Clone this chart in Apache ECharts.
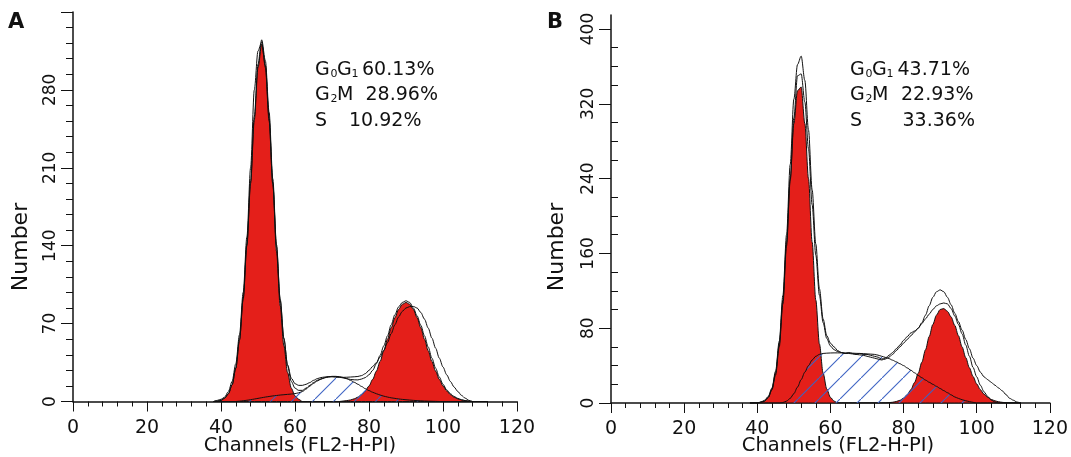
<!DOCTYPE html>
<html><head><meta charset="utf-8">
<script src="https://cdn.jsdelivr.net/npm/echarts@6/dist/echarts.min.js"></script>
<style>html,body{margin:0;padding:0;background:#fff}#c{width:1071px;height:457px}</style>
</head><body><div id="c"></div>
<script>
// Channels (FL2-H-PI) sampled 38..112
const channels = [38,39,40,41,42,43,44,45,46,47,48,49,50,51,52,53,54,55,56,57,58,59,60,61,62,63,64,65,66,67,68,69,70,71,72,73,74,75,76,77,78,79,80,81,82,83,84,85,86,87,88,89,90,91,92,93,94,95,96,97,98,99,100,101,102,103,104,105,106,107,108,109,110,111,112];

// Panel A
const aG1 = [0,0,1,3,7,15,30,55,92,140, 196,253,300,321,302,255,195,135,86,50, 26,12,5,2,0,0,0,0,0,0, 0,0,0,0,0,0,0,0,0,0, 0,0,0,0,0,0,0,0,0,0, 0,0,0,0,0,0,0,0,0,0, 0,0,0,0,0,0,0,0,0,0, 0,0,0,0,0];
const aS  = [0,0,0,0,0,0,0,0.3,0.7,1.1, 1.6,2.2,2.8,3.4,4,4.5,5,5.4,5.8,6.1, 6.4,6.7,7.1,7.8,9,11.2,13.8,16.3,18.4,20, 21.3,22.2,22.6,22.6,22.3,21.6,20.5,19,17.3,15.5, 13.5,11.5,9.8,8.3,7,5.8,4.8,4,3.3,2.8, 2.3,1.9,1.6,1.3,1,0.8,0.6,0.4,0.3,0.2, 0.1,0,0,0,0,0,0,0,0,0, 0,0,0,0,0];
const aG2 = [0,0,0,0,0,0,0,0,0,0, 0,0,0,0,0,0,0,0,0,0, 0,0,0,0,0,0,0,0,0,0, 0,0,0,0,0,0.4,0.8,1.4,2.4,3.9, 6.2,9.5,14,19.9,27.3,36,45.7,56,66.2,75.4, 82.7,87.4,89,87.4,82.7,75.4,66.2,56,45.7,36, 27.3,19.9,14,9.5,6.2,3.9,2.4,1.4,0.8,0.4, 0,0,0,0,0];
const aFit = [0,0.5,1,3,7,15,30,56,93,142, 198,256,303,325,306,260,200,141,92,57, 32,18,12,10,10,12,14.5,17,19,20.3, 21.3,22,22.3,22.2,21.8,21.2,20.5,19.8,19.5,19.4, 20.2,21.5,24,28,34,41.5,50,59,69,78, 85,89,90.5,89,84,77,68.5,59,49,39, 30,22,15.5,10.5,7,4.5,2.8,1.6,0.8,0, 0,0,0,0,0];
const aData = [0,1,2,4,9,18,34,60,98,148, 210,280,315,323,300,252,196,139,91,56, 33,21,16,14.5,14.5,15.5,17,19,20.5,21.5, 22,22.3,22.3,22,21.8,21.7,21.8,22,22.2,22.5, 23.3,25,28,31.5,35,40,46,53,61,69, 76,81,84,85.3,85.4,84,80,74,66,57, 48,39,31,24,18,13,9,5.5,3,1, 0,0,0,0,0];

// Panel B
const bG1 = [0,0,0,1,2,6,15,32,63,110, 172,240,299,334,338,299,240,172,110,63, 32,15,6,2,0,0,0,0,0,0, 0,0,0,0,0,0,0,0,0,0, 0,0,0,0,0,0,0,0,0,0, 0,0,0,0,0,0,0,0,0,0, 0,0,0,0,0,0,0,0,0,0, 0,0,0,0,0];
const bS  = [0,0,0,0,0,0,0,0,0,0.5, 2,5,10,17,25,33,40,46,50,52, 53,53.3,53.5,53.6,53.6,53.6,53.5,53.4,53.3,53.1, 53,52.8,52.5,52.3,52,51.2,50,48.8,47.5,45.8, 44,42,40,37.5,35,32.3,29.5,27,24.5,22.2, 20,17.8,15.5,13.2,11,8.7,6.5,4.9,3.5,2.4, 1.5,0.7,0,0,0,0,0,0,0,0, 0,0,0,0,0];
const bG2 = [0,0,0,0,0,0,0,0,0,0, 0,0,0,0,0,0,0,0,0,0, 0,0,0,0,0,0,0,0,0,0, 0,0,0,0,0,0,0,0,0.4,0.8, 1.6,2.9,5.2,8.9,14.3,21.9,31.7,43.6,57,71, 84,94,100,101,98,92,83,72,60,48.5, 37.7,28.3,20.4,14.2,9.5,6.1,3.8,2.3,1.3,0.7, 0.3,0,0,0,0];
const bOuter = [0,0,0,1,3,7,16,34,66,115, 180,255,325,362,371,345,292,228,170,122, 90,72,64,60,56,54,53,54,53,52, 53,52,52,51,50,49,47,48,51,54, 58,62,67,71,75,77,80,86,94,104, 113,119,121,119,113,105,96,87,78,68, 58,48,40,33,28,25,22,19,16,13, 9,5,3,1,0];
const bInner = [0,0,0,1,2,6,14,30,60,106, 168,238,305,350,352,322,272,212,158,115, 86,69,61,57,55,54,53,53,52.5,52, 51.5,51,50,49,48,47,46,47,49,52, 56,60,64,68,72,76,80,85,90,95, 100,104,106,107,106,101,93,84,74,62, 50,38,28,19,12,7,3,1,0,0, 0,0,0,0,0];

// Axis ticks
const aYTicks = [0,70,140,210,280];
const bYTicks = [0,80,160,240,320,400];
const bYMinor = [20,40,60,100,120,140,180,200,220,260,280,300,340,360,380];

// Text
const panelLetters = ['A','B'];
const aStats = ['60.13%','28.96%','10.92%'];
const bStats = ['43.71%','22.93%','33.36%'];
const xName = 'Channels (FL2-H-PI)';
const yName = 'Number';

const FONT = 'DejaVu Sans';
const RED = '#e41f1a';
const INK = '#111111';

function pairs(v){ return channels.map((c,i)=>[c, v[i]]); }
function hatchCanvas(){
  const s = 21, cv = document.createElement('canvas');
  cv.width = s; cv.height = s;
  const g = cv.getContext('2d');
  g.strokeStyle = '#3d63c4'; g.lineWidth = 1.1;
  g.beginPath(); g.moveTo(-1, s+1); g.lineTo(s+1, -1); g.stroke();
  return cv;
}
const hatch = {image: hatchCanvas(), repeat: 'repeat'};

function areaSeries(xi, yi, vals, fill, z){
  return {type:'line', xAxisIndex:xi, yAxisIndex:yi, data:pairs(vals), showSymbol:false,
    smooth:0.3, smoothMonotone:'x', lineStyle:{color:INK, width:1}, areaStyle:{color:fill, opacity:1},
    z:z, silent:true, animation:false};
}
function lineSeries(xi, yi, vals, z){
  return {type:'line', xAxisIndex:xi, yAxisIndex:yi, data:pairs(vals), showSymbol:false,
    smooth:0.3, smoothMonotone:'x', lineStyle:{color:INK, width:1}, z:z, silent:true, animation:false};
}

function xAxisCfg(gi){
  return {type:'value', gridIndex:gi, min:0, max:120, interval:20,
    axisLine:{show:true, onZero:false, lineStyle:{color:INK, width:1.5}},
    axisTick:{show:true, length:10, lineStyle:{color:INK}},
    minorTick:{show:true, splitNumber:5, length:5, lineStyle:{color:INK}},
    splitLine:{show:false}, minorSplitLine:{show:false},
    axisLabel:{color:INK, fontFamily:FONT, fontSize:19, margin:17}};
}

const graphics = [];
function txt(x, y, s, fs, weight, extra, align){
  graphics.push(Object.assign({type:'text', x:x, y:y, silent:true,
    style:{text:s, fill:INK, font:(weight||'normal')+' '+fs+'px "'+FONT+'"', textAlign:align||'left', textVerticalAlign:'middle', verticalAlign:'middle'}}, extra||{}));
}
function stats(bx, vals, offs){
  const bl = [76.5, 102, 127.5];
  const m = 6.8, ms = 2.5;
  txt(bx, bl[0]-m, 'G', 19);
  txt(bx+15.5, bl[0]-ms, '0', 11);
  txt(bx+22, bl[0]-m, 'G', 19);
  txt(bx+36.5, bl[0]-ms, '1', 11);
  txt(bx+offs[0], bl[0]-m, vals[0], 19);
  txt(bx, bl[1]-m, 'G', 19);
  txt(bx+15.5, bl[1]-ms, '2', 11);
  txt(bx+22, bl[1]-m, 'M', 19);
  txt(bx+offs[1], bl[1]-m, vals[1], 19);
  txt(bx, bl[2]-m, 'S', 19);
  txt(bx+offs[2], bl[2]-m, vals[2], 19);
}
stats(315, aStats, [47, 50.5, 34]);
stats(850, bStats, [47.5, 51, 52.5]);
txt(8, 22.5, panelLetters[0], 21, 'bold');
txt(547, 22.5, panelLetters[1], 21, 'bold');
txt(21, 247, yName, 22, 'normal', {rotation:Math.PI/2}, 'center');
txt(557, 247, yName, 22, 'normal', {rotation:Math.PI/2}, 'center');
txt(300, 446, xName, 19.5, 'normal', null, 'center');
txt(838, 446, xName, 19.5, 'normal', null, 'center');

const option = {
  backgroundColor:'#ffffff',
  animation:false,
  grid:[
    {left:73, top:12, width:444, height:389.5},
    {left:611, top:15, width:444, height:388}
  ],
  xAxis:[xAxisCfg(0), xAxisCfg(1)],
  yAxis:[
    {type:'value', gridIndex:0, min:0, max:350, interval:70,
      axisLine:{show:true, onZero:false, lineStyle:{color:INK, width:1.5}},
      axisTick:{show:true, length:12, lineStyle:{color:INK}},
      minorTick:{show:true, splitNumber:5, length:7, lineStyle:{color:INK}},
      splitLine:{show:false}, minorSplitLine:{show:false},
      axisLabel:{color:INK, fontFamily:FONT, fontSize:17, rotate:90, margin:14, customValues:aYTicks}},
    {type:'value', gridIndex:1, min:0, max:415,
      axisLine:{show:true, onZero:false, lineStyle:{color:INK, width:1.5}},
      axisTick:{show:true, length:12, lineStyle:{color:INK}, customValues:bYTicks},
      splitLine:{show:false},
      axisLabel:{color:INK, fontFamily:FONT, fontSize:17, rotate:90, margin:14, customValues:bYTicks}},
    {type:'value', gridIndex:1, min:0, max:415,
      axisLine:{show:false},
      axisTick:{show:true, length:7, lineStyle:{color:INK}, customValues:bYMinor},
      splitLine:{show:false},
      axisLabel:{show:false}}
  ],
  series:[
    areaSeries(0,0,aG1,RED,2),
    areaSeries(0,0,aG2,RED,2),
    areaSeries(0,0,aS,hatch,3),
    lineSeries(0,0,aFit,4),
    lineSeries(0,0,aData,4),
    areaSeries(1,1,bG1,RED,2),
    areaSeries(1,1,bG2,RED,2),
    areaSeries(1,1,bS,hatch,3),
    lineSeries(1,1,bInner,4),
    lineSeries(1,1,bOuter,4)
  ],
  graphic:graphics
};
const chart = echarts.init(document.getElementById('c'));
chart.setOption(option);
</script>
</body></html>
